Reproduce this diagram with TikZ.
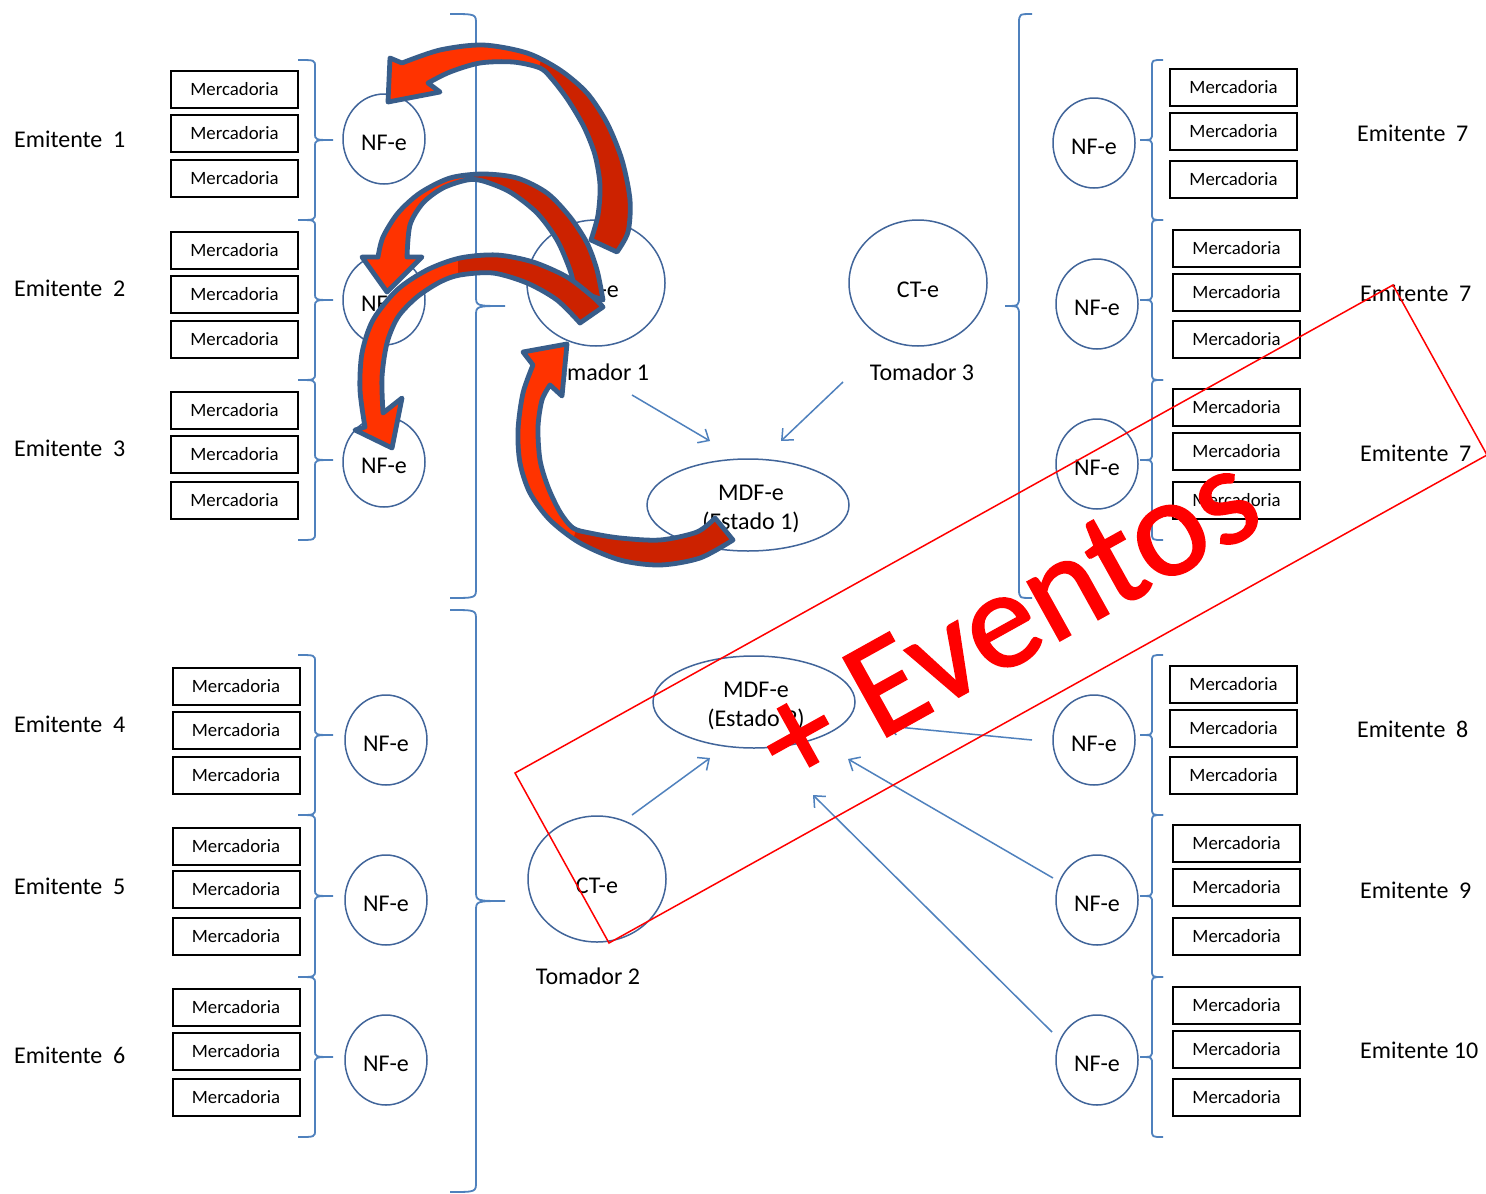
\documentclass[tikz,border=0pt]{standalone}
\usepackage{fontspec}
\setmainfont{Carlito}
\newfontfamily\evfont[FakeBold=1.2]{Carlito}
\usetikzlibrary{shapes.geometric,arrows.meta}
\definecolor{brc}{HTML}{4F81BD}
\definecolor{circ}{HTML}{41659A}
\definecolor{rbright}{HTML}{FF3300}
\definecolor{rdark}{HTML}{CC2200}
\definecolor{rout}{HTML}{385D8A}
\newcommand{\Brc}[6]{%
 \draw[brcline] (#1,#4) .. controls (#2,#4) .. (#2,{#4+#6}) -- (#2,{(#4+#5)/2-#6}) .. controls (#2,{(#4+#5)/2}) .. (#3,{(#4+#5)/2}) .. controls (#2,{(#4+#5)/2}) .. (#2,{(#4+#5)/2+#6}) -- (#2,{#5-#6}) .. controls (#2,#5) .. (#1,#5);}
\newcommand{\ShapeA}{(390,58) -- plot[smooth] coordinates {(402,63) (440,50) (483,45) (527,53) (560,70) (587,93) (607,123) (622,160) (630,200) (628,232) (617,252)} -- plot[smooth] coordinates {(591,240) (598,215) (600,185) (595,155) (584,127) (568,100) (552,79) (540,68) (513,62) (480,63) (450,72) (428,83)} -- (440,92) -- (388,102) -- cycle}
\newcommand{\ShapeB}{(362,257) -- plot[smooth] coordinates {(378,257) (383,237) (398,213) (420,193) (450,178) (483,174) (517,178) (547,193) (570,217) (587,243) (597,270) (603,300)} -- plot[smooth] coordinates {(575,290) (570,270) (557,240) (537,213) (510,192) (483,181) (467,180) (443,188) (423,203) (410,225) (407,257)} -- (422,257) -- (387,292) -- cycle}
\newcommand{\ShapeC}{(355,430) -- plot[smooth] coordinates {(365,427) (360,390) (362,353) (373,320) (397,290) (427,270) (460,258) (497,255) (533,262) (567,277) (593,297) (603,307)} -- plot[smooth] coordinates {(580,323) (557,300) (527,283) (493,273) (460,275) (440,282) (417,297) (398,317) (387,343) (382,377) (383,413)} -- (402,398) -- (392,448) -- cycle}
\newcommand{\ShapeD}{(523,352) -- plot[smooth] coordinates {(533,365) (523,393) (518,430) (520,463) (530,493) (550,520) (580,543) (620,560) (660,565) (700,558) (733,540)} -- plot[smooth] coordinates {(715,518) (697,532) (660,540) (620,538) (590,533) (573,528) (560,512) (548,487) (540,460) (538,427) (542,400) (550,385)} -- (562,396) -- (567,344) -- cycle}
\begin{document}
\begin{tikzpicture}[x=1pt,y=-1pt,
 merc/.style={draw=black,line width=2pt,minimum width=127pt,minimum height=37pt,inner sep=0pt,font=\fontsize{18.8}{20}\selectfont},
 nfe/.style={ellipse,draw=circ,line width=1.5pt,minimum width=82pt,minimum height=90pt,inner sep=0pt,text height=23.5pt,text depth=0pt,font=\fontsize{24}{26}\selectfont},
 tom/.style={ellipse,draw=circ,line width=1.5pt,minimum width=138pt,minimum height=126pt,inner sep=0pt,text height=29pt,text depth=0pt,font=\fontsize{24}{26}\selectfont},
 mdf/.style={ellipse,draw=circ,line width=1.5pt,minimum width=202pt,minimum height=92pt,inner sep=0pt},
 lab/.style={font=\fontsize{24}{29}\selectfont,inner sep=0pt},
 emi/.style={lab,anchor=west},
 brcline/.style={draw=brc,line width=1.8pt},
 conn/.style={draw=brc,line width=1.5pt,-{Straight Barb[length=9pt,width=16pt]}},
 rfill/.style={fill=rbright},
 rdk/.style={fill=rdark},
 rline/.style={draw=rout,line width=4.8pt,line join=round},
]
\fill[white] (0,0) rectangle (1486,1194);
\useasboundingbox (0,0) rectangle (1486,1194);

% Mercadoria boxes
\foreach \g/\x/\a/\b/\c in {1/234.5/89/133/178, 2/234.5/250/294/339, 3/234.5/410/454/500, 4/236/686/730/775, 5/236/846/889/936, 6/236/1007/1051/1097, 7/1233.5/87/131/179, 71/1236.5/248/292/339, 72/1236.5/407/451/500, 8/1233.5/684/728/775, 9/1236.5/843/887/936, 10/1236.5/1005/1049/1097}{
  \node[merc] (m\g a) at (\x,\a) {Mercadoria};
  \node[merc] (m\g b) at (\x,\b) {Mercadoria};
  \node[merc] (m\g c) at (\x,\c) {Mercadoria};
}

% NF-e circles
\node[nfe] (n1) at (384,139) {NF-e};
\node[nfe] (n2) at (384,300) {NF-e};
\node[nfe] (n3) at (384,462) {NF-e};
\node[nfe] (n4) at (386,740) {NF-e};
\node[nfe] (n5) at (386,900) {NF-e};
\node[nfe] (n6) at (386,1060) {NF-e};
\node[nfe] (n7) at (1094,143) {NF-e};
\node[nfe] (n71) at (1097,304) {NF-e};
\node[nfe] (n72) at (1097,464) {NF-e};
\node[nfe] (n8) at (1094,740) {NF-e};
\node[nfe] (n9) at (1097,900) {NF-e};
\node[nfe] (n10) at (1097,1060) {NF-e};

% Emitente labels
\node[emi] (e1) at (14,139) {Emitente\hspace{0.45em}1};
\node[emi] (e2) at (14,288) {Emitente\hspace{0.45em}2};
\node[emi] (e3) at (14,448) {Emitente\hspace{0.45em}3};
\node[emi] (e4) at (14,724) {Emitente\hspace{0.45em}4};
\node[emi] (e5) at (14,886) {Emitente\hspace{0.45em}5};
\node[emi] (e6) at (14,1055) {Emitente\hspace{0.45em}6};
\node[emi] (e7) at (1357,133) {Emitente\hspace{0.45em}7};
\node[emi] (e71) at (1360,293) {Emitente\hspace{0.45em}7};
\node[emi] (e72) at (1360,453) {Emitente\hspace{0.45em}7};
\node[emi] (e8) at (1357,729) {Emitente\hspace{0.45em}8};
\node[emi] (e9) at (1360,890) {Emitente\hspace{0.45em}9};
\node[emi] (e10) at (1360,1050) {Emitente 10};

% braces
\foreach \t/\b in {60/220, 220/380, 380/540, 655/815, 815/977, 977/1137}{
  \Brc{298}{315}{333}{\t}{\b}{7}
  \Brc{1163}{1152}{1140}{\t}{\b}{7}
}
\Brc{450}{476}{505}{14}{598}{10}
\Brc{450}{476}{505}{610}{1192}{10}
\Brc{1032}{1019}{1005}{14}{598}{10}

% Tomadores and MDF-e
\node[tom] (t1) at (596,283) {NF-e};
\node[tom] (t3) at (918,283) {CT-e};
\node[tom] (t2) at (597,879) {CT-e};
\node[lab] (t1l) at (597,372) {Tomador 1};
\node[lab] (t3l) at (922,372) {Tomador 3};
\node[lab] (t2l) at (588,976) {Tomador 2};
\node[mdf] (md1) at (748,505) {};
\node[lab,align=center] (md1t) at (751,509) {MDF-e\\(Estado 1)};
\node[mdf] (md2) at (754,702) {};
\node[lab,align=center] (md2t) at (756,706) {MDF-e\\(Estado 2)};

% connectors
\coordinate (a1s) at (632,395); \coordinate (a1e) at (710,441);
\coordinate (a2s) at (843,382); \coordinate (a2e) at (781,441);
\coordinate (a3s) at (632,815); \coordinate (a3e) at (710,758);
\coordinate (a4s) at (1032,740); \coordinate (a4e) at (887,726);
\coordinate (a5s) at (1053,878); \coordinate (a5e) at (848,759);
\coordinate (a6s) at (1052,1032); \coordinate (a6e) at (813,795);
\draw[conn] (a1s) -- (a1e);
\draw[conn] (a2s) -- (a2e);
\draw[conn] (a3s) -- (a3e);
\draw[conn] (a4s) -- (a4e);
\draw[conn] (a5s) -- (a5e);
\draw[conn] (a6s) -- (a6e);

% red curved arrows
\fill[rfill] \ShapeB;
\begin{scope}\clip \ShapeB; \fill[rdk] (472,150) -- (650,150) -- (650,330) -- (472,330) -- cycle; \end{scope}
\draw[rline] \ShapeB;

\fill[rfill] \ShapeC;
\begin{scope}\clip \ShapeC; \fill[rdk] (458,230) -- (650,230) -- (650,350) -- (458,350) -- cycle; \end{scope}
\draw[rline] \ShapeC;

\fill[rfill] \ShapeA;
\begin{scope}\clip \ShapeA; \fill[rdk] (548,30) -- (700,30) -- (700,300) -- (520,300) -- (535,85) -- cycle; \end{scope}
\draw[rline] \ShapeA;

\fill[rfill] \ShapeD;
\begin{scope}\clip \ShapeD; \fill[rdk] (585,500) -- (760,480) -- (760,600) -- (555,600) -- cycle; \end{scope}
\draw[rline] \ShapeD;

% Eventos
\draw[red,line width=1.5pt] (515,773) -- (609,943) -- (1487,455) -- (1393,285) -- cycle;
\node[text=red,rotate=29.06,font=\evfont\fontsize{141}{150}\selectfont,inner sep=0pt] (ev) at (1007,619) {+ Eventos};
\end{tikzpicture}
\end{document}
